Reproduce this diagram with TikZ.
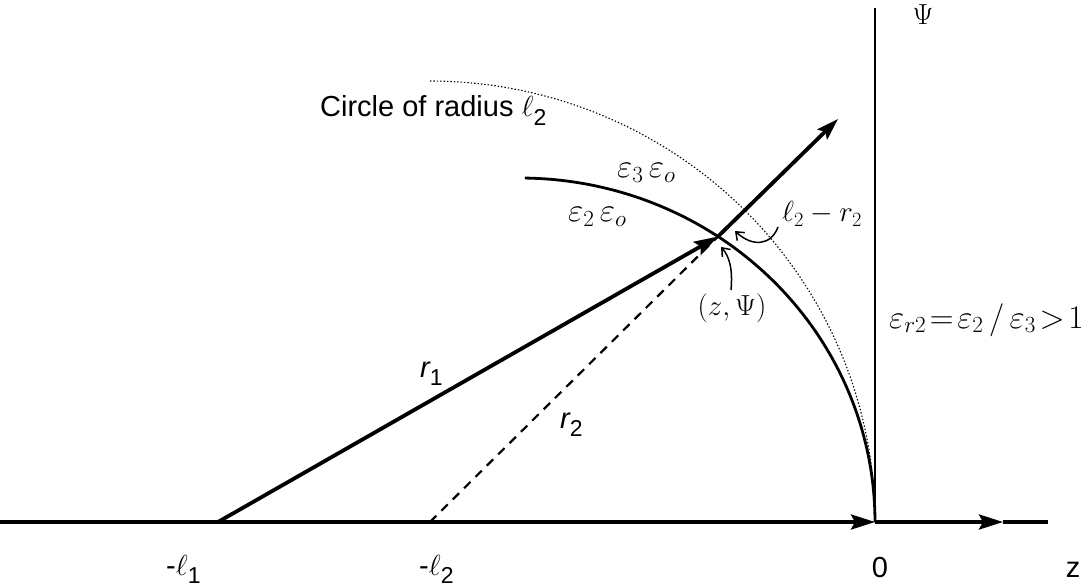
\RequirePackage{fix-cm}
\documentclass[tikz,border=0pt]{standalone}
\usepackage{fontspec}
\newfontfamily\arial{Liberation Sans}
\usetikzlibrary{arrows.meta}
\newcommand{\lowsub}[1]{\raisebox{-0.3em}{\fontsize{23}{23}\selectfont #1}}
\begin{document}
\begin{tikzpicture}[x=1pt,y=-1pt,
  axisline/.style={line width=3.4pt},
  vaxis/.style={line width=2.6pt},
  rayline/.style={line width=3.8pt},
  bigtip/.style={-{Stealth[length=24pt,width=15pt,inset=4pt]}},
  smalltip/.style={-{Stealth[length=22pt,width=14pt,inset=4pt]}},
  arcline/.style={line width=2.8pt},
  dashline/.style={line width=2.2pt,dash pattern=on 9pt off 7pt},
  dotline/.style={line width=1.1pt,dash pattern=on 1.4pt off 2pt},
  pointer/.style={line width=1.5pt,-{Straight Barb[length=7pt,width=11pt,line width=1.5pt]}},
  mathlbl/.style={font=\fontsize{29}{34}\selectfont, inner sep=0pt},
  epslbl/.style={font=\fontsize{33}{38}\selectfont, inner sep=0pt},
  sanslbl/.style={font=\arial\fontsize{29}{34}\selectfont, inner sep=0pt}
]
\useasboundingbox (0,0) rectangle (1090,588);

% key points
\coordinate (Xl) at (0,522);
\coordinate (O)  at (875,522);
\coordinate (Xa) at (1003,522);
\coordinate (Xr) at (1048,522);
\coordinate (Yt) at (875,8);
\coordinate (L1) at (218,522);
\coordinate (L2) at (430,522);
\coordinate (P)  at ({520+355*cos(56.1)},{522-344*sin(56.1)});
\coordinate (Q)  at (838,119);

% axes
\draw[axisline,bigtip] (Xl) -- (O);
\draw[axisline,bigtip] (O) -- (Xa);
\draw[axisline] (Xa) -- (Xr);
\draw[vaxis] (O) -- (Yt);

% dotted circle of radius l2 (centre -l2)
\draw[dotline] plot[domain=90:0,samples=80] ({430+445*cos(\x)},{522-441*sin(\x)});
% solid boundary
\draw[arcline] plot[domain=89.2:0,samples=80] ({520+355*cos(\x)},{522-344*sin(\x)});

% rays
\draw[dashline] (L2) -- (P);
\draw[rayline,bigtip] (L1) -- (P);
\draw[rayline,smalltip] (P) -- (Q);

% labels
\node[mathlbl] (psi) at (923,15) {$\Psi$};
\node[sanslbl,anchor=base west] (circ) at (320,117) {Circle of radius $\ell$\lowsub{2}};
\node[epslbl,anchor=base west] (e3) at (617,178) {$\varepsilon_3\,\varepsilon_o$};
\node[epslbl,anchor=base west] (e2) at (568,222) {$\varepsilon_2\,\varepsilon_o$};
\node[mathlbl,anchor=base west] (lr) at (782,222) {$\ell_2-r_2$};
\node[mathlbl,anchor=base] (zp) at (732,316) {$(z,\Psi)$};
\node[epslbl,anchor=base west] (er) at (889,328) {$\varepsilon_{r2}\!=\!\varepsilon_2\,/\,\varepsilon_3\!>\!1$};
\node[sanslbl,anchor=base west] (r1) at (420,377) {\itshape r\upshape\lowsub{1}};
\node[sanslbl,anchor=base west] (r2) at (560,428) {\itshape r\upshape\lowsub{2}};
\node[sanslbl,anchor=base west] (ml1) at (166,575) {-$\ell$\lowsub{1}};
\node[sanslbl,anchor=base west] (ml2) at (419,575) {-$\ell$\lowsub{2}};
\node[sanslbl,anchor=base] (zero) at (880,577) {0};
\node[sanslbl,anchor=base] (zz) at (1073,577) {z};

% pointers
\coordinate (lrS) at (778,227);
\coordinate (lrE) at (735,231);
\coordinate (zpS) at (731,290);
\coordinate (zpE) at (721,247);
\draw[pointer] (lrS) .. controls (771,246) and (752,247) .. (lrE);
\draw[pointer] (zpS) .. controls (733,268) and (729,256) .. (zpE);
\end{tikzpicture}
\end{document}
